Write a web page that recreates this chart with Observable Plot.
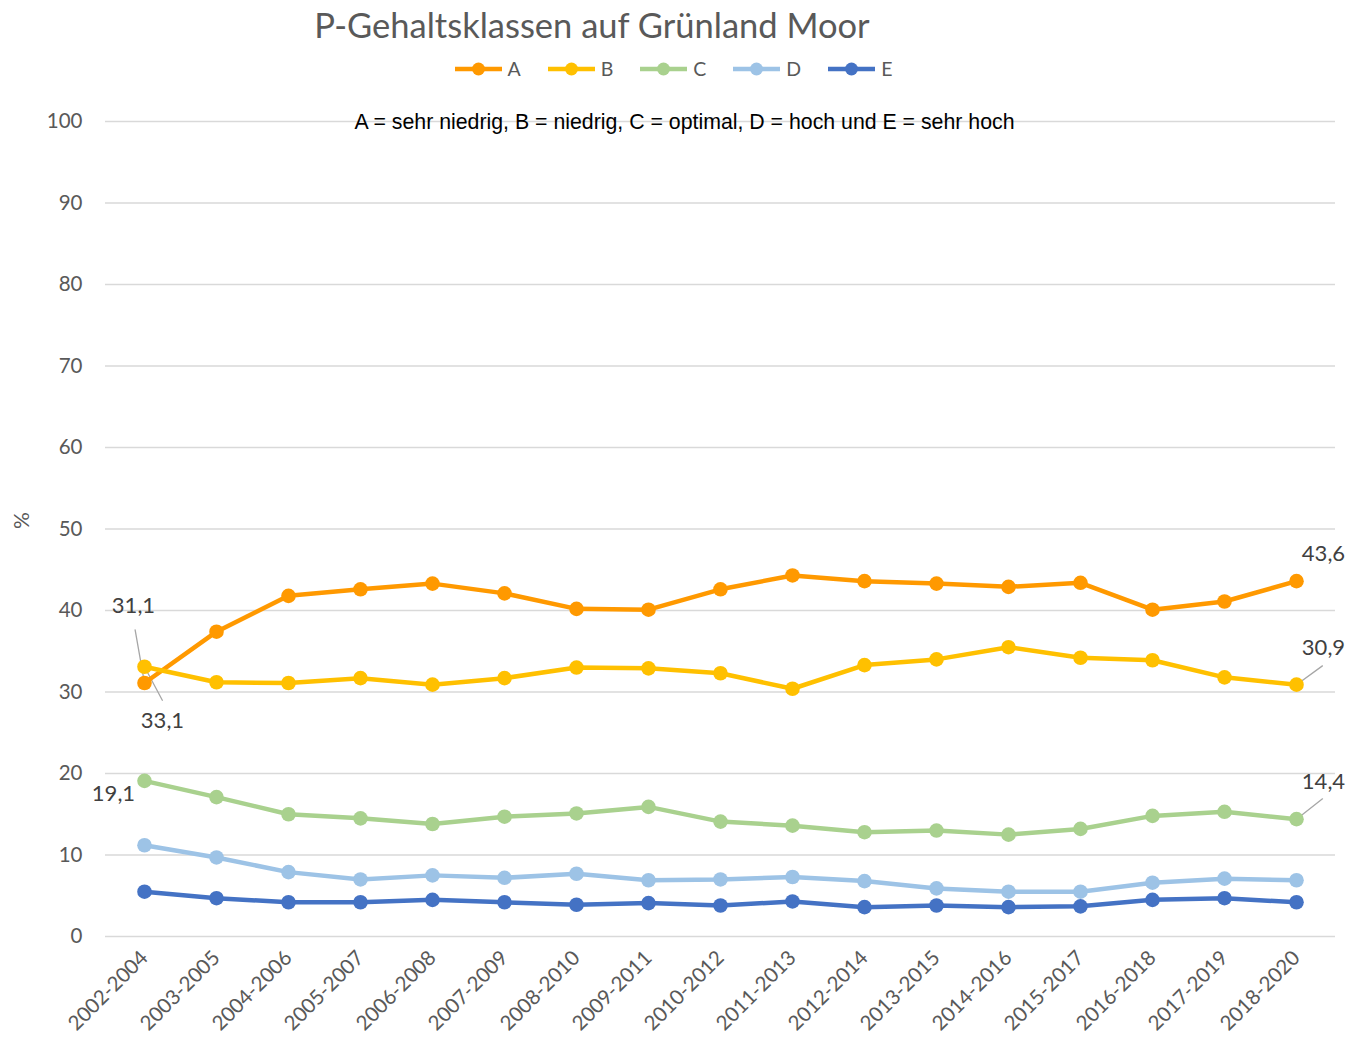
<!DOCTYPE html>
<html><head><meta charset="utf-8">
<script src="https://cdn.jsdelivr.net/npm/d3@7"></script>
<script src="https://cdn.jsdelivr.net/npm/@observablehq/plot@0.6"></script>
<style>
body{margin:0;background:#fff;font-family:Lato,sans-serif;}
#header{position:relative;width:1347px;height:95px;}
#title{position:absolute;left:0;width:1184px;top:3px;text-align:center;font-size:34.5px;color:#595959;line-height:44px;white-space:nowrap;}
#legend{position:absolute;left:0;width:1347px;top:58px;display:flex;justify-content:center;gap:27px;font-size:19.5px;color:#595959;line-height:22px;}
.item{display:flex;align-items:center;}
.item span{margin-left:6px;}
</style>
</head><body>
<div id="header"><div id="title">P-Gehaltsklassen auf Grünland Moor</div><div id="legend"></div></div>
<div id="chart"></div>
<script>
const periods = ["2002-2004","2003-2005","2004-2006","2005-2007","2006-2008","2007-2009","2008-2010","2009-2011","2010-2012","2011-2013","2012-2014","2013-2015","2014-2016","2015-2017","2016-2018","2017-2019","2018-2020"];
const seriesNames = ["A","B","C","D","E"];
const valuesA = [31.1, 37.4, 41.8, 42.6, 43.3, 42.1, 40.2, 40.1, 42.6, 44.3, 43.6, 43.3, 42.9, 43.4, 40.1, 41.1, 43.6];
const valuesB = [33.1, 31.2, 31.1, 31.7, 30.9, 31.7, 33.0, 32.9, 32.3, 30.4, 33.3, 34.0, 35.5, 34.2, 33.9, 31.8, 30.9];
const valuesC = [19.1, 17.1, 15.0, 14.5, 13.8, 14.7, 15.1, 15.9, 14.1, 13.6, 12.8, 13.0, 12.5, 13.2, 14.8, 15.3, 14.4];
const valuesD = [11.2, 9.7, 7.9, 7.0, 7.5, 7.2, 7.7, 6.9, 7.0, 7.3, 6.8, 5.9, 5.5, 5.5, 6.6, 7.1, 6.9];
const valuesE = [5.5, 4.7, 4.2, 4.2, 4.5, 4.2, 3.9, 4.1, 3.8, 4.3, 3.6, 3.8, 3.6, 3.7, 4.5, 4.7, 4.2];
const yTicks = [0,10,20,30,40,50,60,70,80,90,100];
const colors = ["#FF9900","#FFC000","#A9D18E","#9DC3E6","#4472C4"];
const noteText = "A = sehr niedrig, B = niedrig, C = optimal, D = hoch und E = sehr hoch";
const yLabel = "%";

const allValues = [valuesA, valuesB, valuesC, valuesD, valuesE];
const data = seriesNames.flatMap((s, i) => periods.map((p, j) => ({series: s, period: p, value: allValues[i][j]})));

// legend
const legend = document.getElementById("legend");
seriesNames.forEach((s, i) => {
  const item = document.createElement("div");
  item.className = "item";
  item.innerHTML = `<svg width="47" height="16"><line x1="0" y1="8" x2="47" y2="8" stroke="${colors[i]}" stroke-width="4.5"/><circle cx="23.5" cy="8" r="6.5" fill="${colors[i]}"/></svg><span>${s}</span>`;
  legend.appendChild(item);
});

const fmt = v => v.toFixed(1).replace(".", ",");
const pick = (s, p) => data.filter(d => d.series === s && d.period === p);
const leaderShape = {draw(ctx, l) { ctx.moveTo(0, 0); ctx.lineTo(0, -l); }};
const labelStyle = {x: "period", y: "value", text: d => fmt(d.value), fill: "#404040", fontSize: 22};
const leader = (s, p, length, rotate) => Plot.vector(pick(s, p), {x: "period", y: "value", length, rotate, anchor: "start", shape: leaderShape, stroke: "#a6a6a6", strokeWidth: 1.3});

const marks = [
  Plot.gridY(yTicks, {stroke: "#d9d9d9", strokeOpacity: 1, strokeWidth: 1.3}),
  Plot.axisY(yTicks, {tickSize: 0, tickPadding: 23, label: null, fontSize: 20.5}),
  Plot.axisX(periods, {tickSize: 0, tickPadding: 18, tickRotate: -45, label: null, fontSize: 20.5}),
  Plot.text([yLabel], {frameAnchor: "left", dx: -83, rotate: -90, text: d => d, fontSize: 21, fill: "#595959"}),
  Plot.text([noteText], {frameAnchor: "top", dx: -36, dy: 1, lineAnchor: "middle", text: d => d, fontSize: 21.3, fill: "#000", fontFamily: "Liberation Sans"}),
  leader("A", "2002-2004", 54, -10),
  leader("B", "2002-2004", 38, 152),
  leader("B", "2018-2020", 32, 54),
  leader("C", "2018-2020", 33, 52)
];
seriesNames.forEach((s, i) => {
  const sub = data.filter(d => d.series === s);
  marks.push(Plot.line(sub, {x: "period", y: "value", stroke: colors[i], strokeWidth: 4.5, curve: "linear"}));
  marks.push(Plot.dot(sub, {x: "period", y: "value", fill: colors[i], r: 7.3}));
});
marks.push(
  Plot.text(pick("A", "2002-2004"), {...labelStyle, dx: -11, dy: -77}),
  Plot.text(pick("B", "2002-2004"), {...labelStyle, dx: 18, dy: 54}),
  Plot.text(pick("C", "2002-2004"), {...labelStyle, dx: -31, dy: 13}),
  Plot.text(pick("A", "2018-2020"), {...labelStyle, dx: 27, dy: -27}),
  Plot.text(pick("B", "2018-2020"), {...labelStyle, dx: 27, dy: -37}),
  Plot.text(pick("C", "2018-2020"), {...labelStyle, dx: 27, dy: -37})
);

const chart = Plot.plot({
  width: 1347, height: 947,
  marginTop: 26, marginBottom: 106, marginLeft: 105, marginRight: 12,
  style: {fontFamily: "Lato, sans-serif", color: "#595959", background: "#fff", overflow: "visible"},
  x: {type: "point", domain: periods, padding: 0.5},
  y: {domain: [0, 100]},
  marks
});
document.getElementById("chart").appendChild(chart);
</script>
</body></html>
